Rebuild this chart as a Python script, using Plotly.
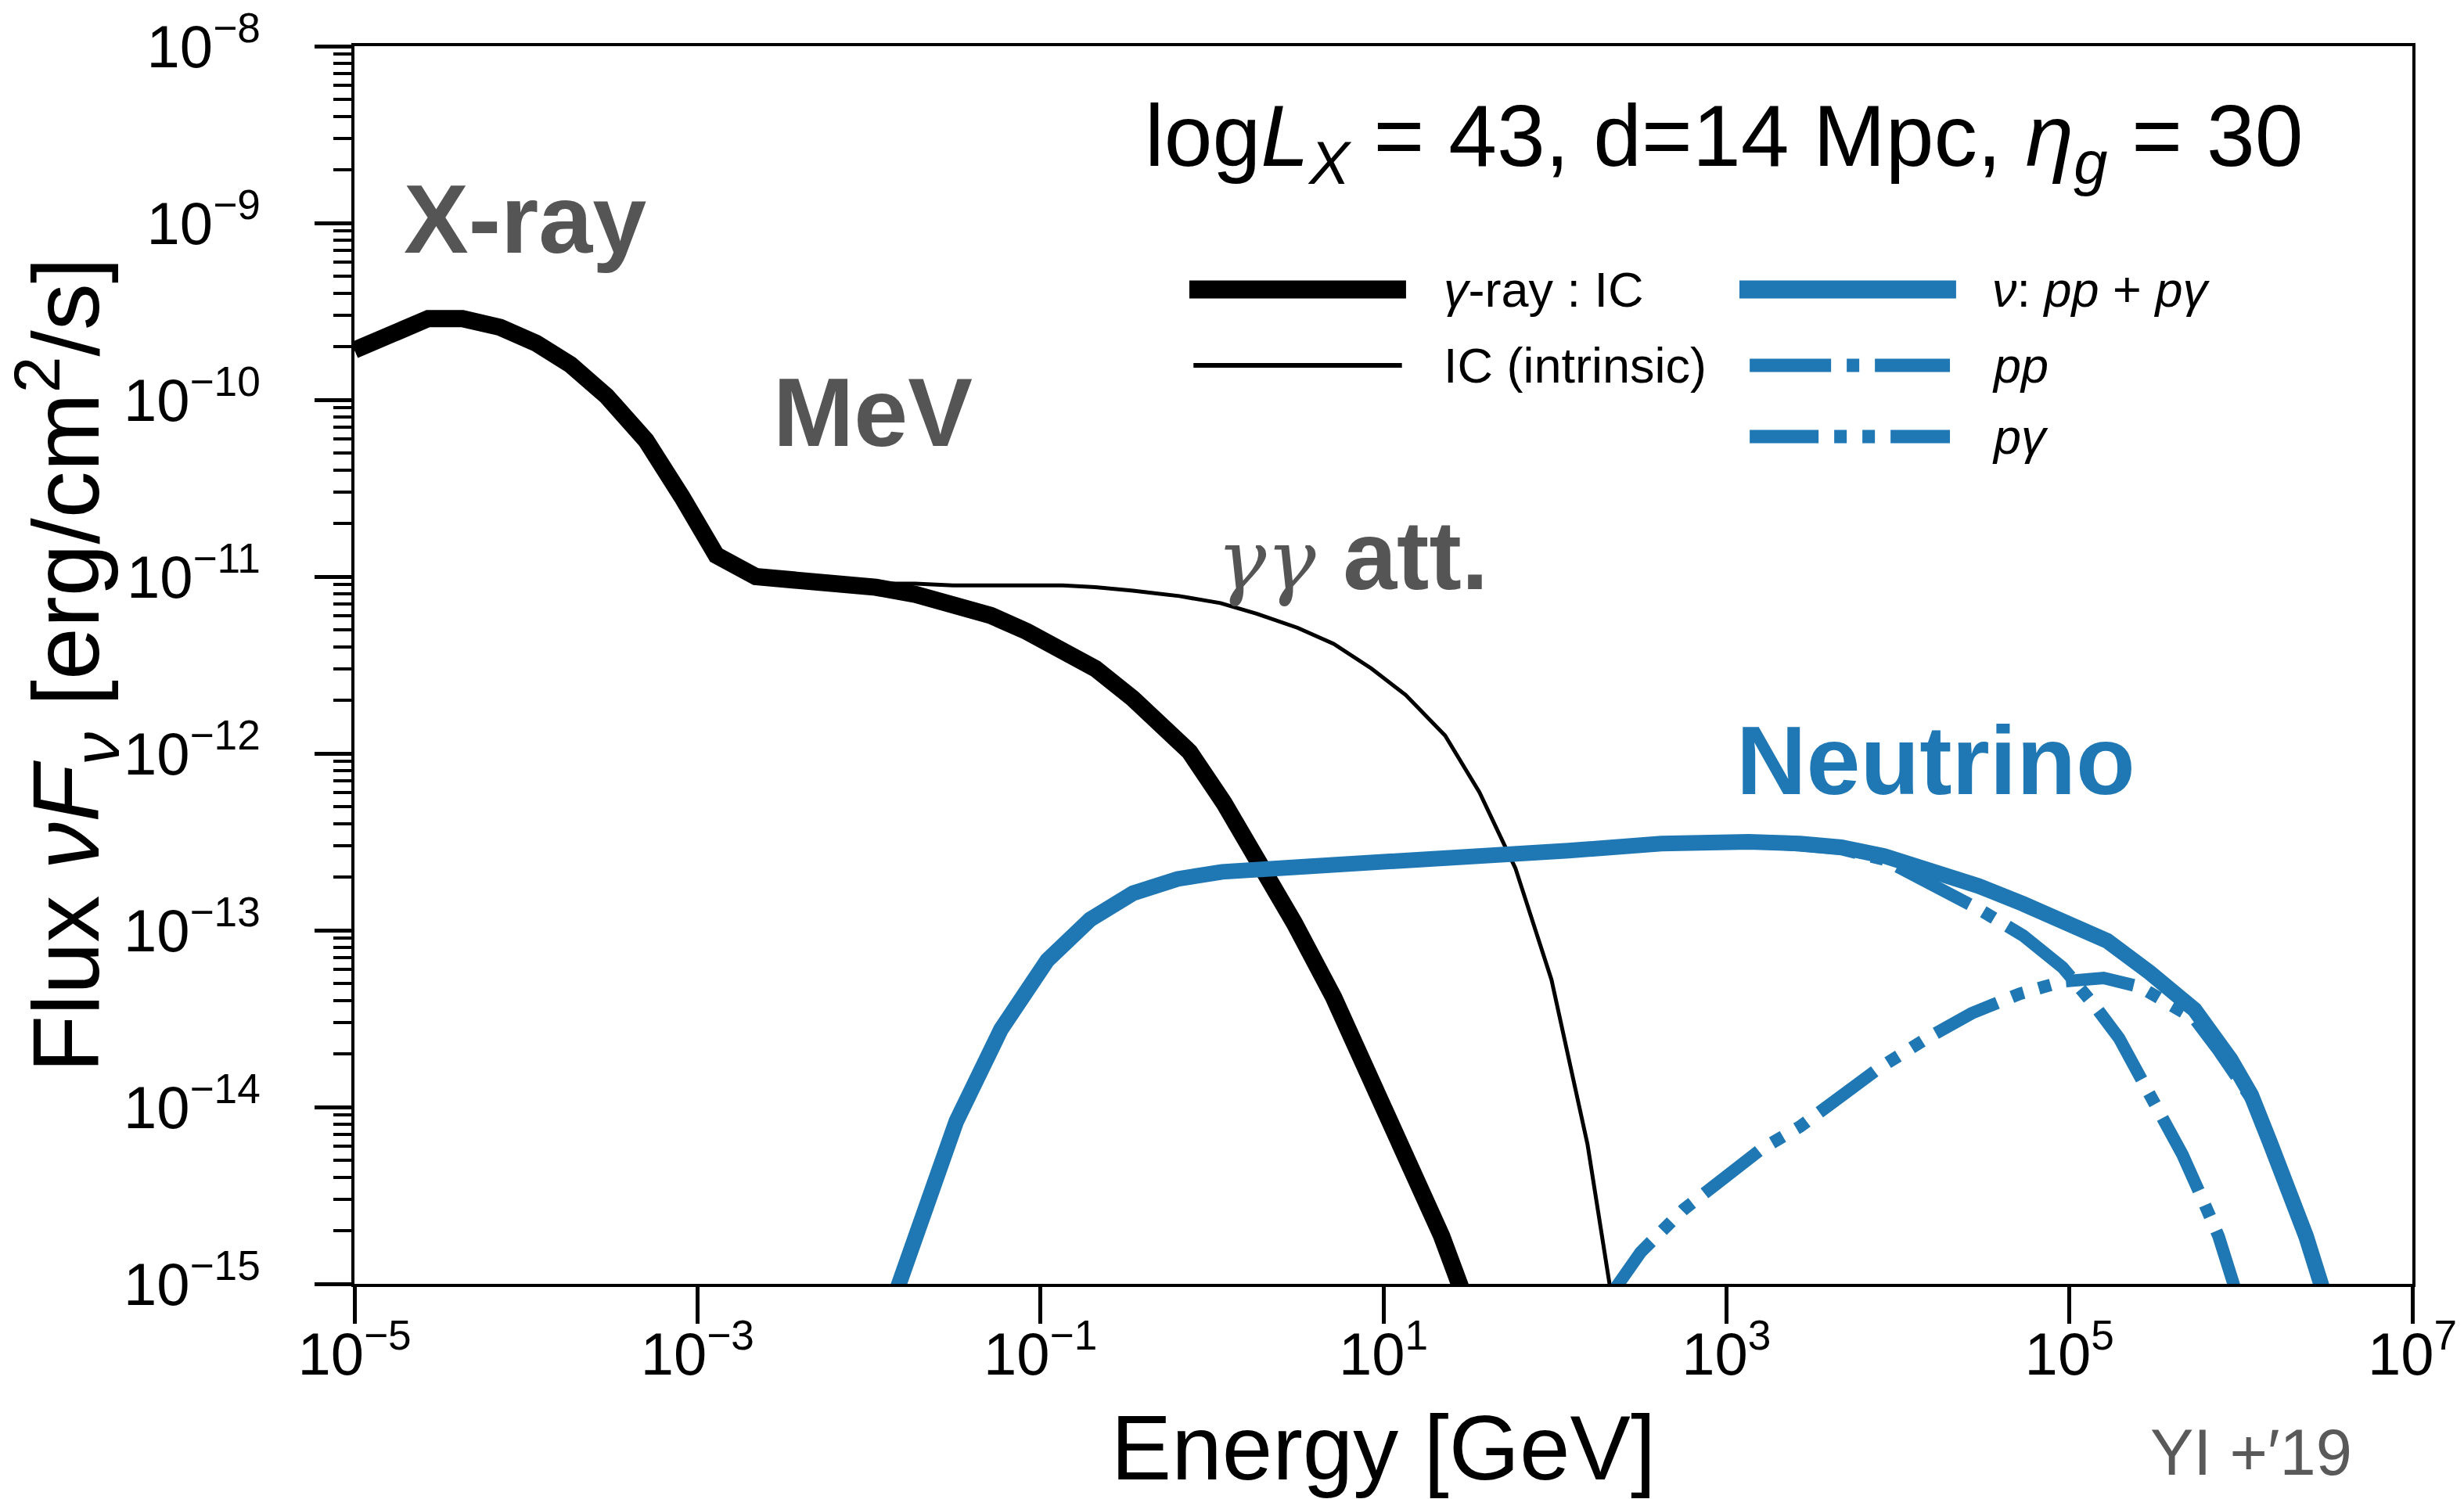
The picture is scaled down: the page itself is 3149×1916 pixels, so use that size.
import plotly.graph_objects as go

# ---------------- data ----------------
# gamma-ray : IC (attenuated, thick black)
gam_E = [1e-5, 10**-4.79, 10**-4.57, 10**-4.37, 10**-4.15, 10**-3.94, 10**-3.74, 10**-3.53,
         10**-3.30, 10**-3.09, 10**-2.89, 10**-2.66, 10**-2.28, 10**-1.96, 10**-1.73, 10**-1.51,
         10**-1.29, 10**-1.08, 10**-0.87, 10**-0.68, 10**-0.46, 10**-0.29, 10**-0.13, 10**0.07,
         10**0.28, 10**0.48, 10**0.71, 10**0.91, 10**1.13, 10**1.34, 10**1.47]
gam_F = [1.91e-10, 2.40e-10, 2.88e-10, 2.88e-10, 2.57e-10, 2.09e-10, 1.58e-10, 1.05e-10,
         5.89e-11, 2.82e-11, 1.32e-11, 1.00e-11, 9.33e-12, 8.71e-12, 7.94e-12, 7.08e-12,
         6.03e-12, 4.90e-12, 3.80e-12, 3.02e-12, 2.04e-12, 1.45e-12, 1.02e-12, 5.25e-13,
         2.40e-13, 1.10e-13, 4.17e-14, 1.58e-14, 5.62e-15, 1.86e-15, 8.5e-16]

# IC (intrinsic, thin black)
ic_E = [1e-5, 10**-4.79, 10**-4.57, 10**-4.37, 10**-4.15, 10**-3.94, 10**-3.74, 10**-3.53,
        10**-3.30, 10**-3.09, 10**-2.89, 10**-2.66, 10**-2.28, 10**-1.96, 10**-1.73, 10**-1.51,
        10**-1.29, 10**-1.08, 10**-0.87, 10**-0.68, 10**-0.46, 10**-0.19, 10**0.05, 10**0.26,
        10**0.50, 10**0.71, 10**0.93, 10**1.13, 10**1.36, 10**1.56, 10**1.77, 10**1.98,
        10**2.19, 10**2.33]
ic_F = [1.91e-10, 2.40e-10, 2.88e-10, 2.88e-10, 2.57e-10, 2.09e-10, 1.58e-10, 1.05e-10,
        5.89e-11, 2.82e-11, 1.32e-11, 1.00e-11, 9.33e-12, 9.12e-12, 9.12e-12, 8.91e-12,
        8.91e-12, 8.91e-12, 8.91e-12, 8.71e-12, 8.32e-12, 7.76e-12, 7.08e-12, 6.17e-12,
        5.13e-12, 4.17e-12, 3.02e-12, 2.14e-12, 1.26e-12, 6.03e-13, 2.24e-13, 5.25e-14,
        6.17e-15, 8.5e-16]

# neutrino: pp + p-gamma (solid blue)
nu_E = [10**-1.85, 10**-1.74, 10**-1.59, 10**-1.49, 10**-1.23, 10**-0.96, 10**-0.71, 10**-0.46,
        10**-0.20, 10**0.06, 10**0.54, 10**1.36, 10**2.08, 10**2.62, 10**2.92, 10**3.13,
        10**3.43, 10**3.67, 10**3.92, 10**4.19, 10**4.47, 10**4.73, 10**4.94, 10**5.22,
        10**5.47, 10**5.73, 10**5.94, 10**6.06, 10**6.17, 10**6.28, 10**6.38, 10**6.49]
nu_F = [8.5e-16, 1.78e-15, 4.27e-15, 8.32e-15, 2.75e-14, 6.76e-14, 1.15e-13, 1.62e-13,
        1.95e-13, 2.14e-13, 2.29e-13, 2.51e-13, 2.82e-13, 3.09e-13, 3.16e-13, 3.16e-13,
        3.09e-13, 2.95e-13, 2.63e-13, 2.19e-13, 1.78e-13, 1.41e-13, 1.17e-13, 8.71e-14,
        5.75e-14, 3.55e-14, 1.86e-14, 1.17e-14, 6.31e-15, 3.47e-15, 1.86e-15, 8.5e-16]

# pp component (dash-dot)
pp_E = [10**-1.85, 10**-1.74, 10**-1.59, 10**-1.49, 10**-1.23, 10**-0.96, 10**-0.71, 10**-0.46,
        10**-0.20, 10**0.06, 10**0.54, 10**1.36, 10**2.08, 10**2.62, 10**2.92, 10**3.13,
        10**3.43, 10**3.67, 10**3.92, 10**4.19, 10**4.47, 10**4.73, 10**4.96, 10**5.15,
        10**5.29, 10**5.47, 10**5.66, 10**5.78, 10**5.87, 10**5.98]
pp_F = [8.5e-16, 1.78e-15, 4.27e-15, 8.32e-15, 2.75e-14, 6.76e-14, 1.15e-13, 1.62e-13,
        1.95e-13, 2.14e-13, 2.29e-13, 2.51e-13, 2.82e-13, 3.09e-13, 3.16e-13, 3.16e-13,
        3.02e-13, 2.88e-13, 2.51e-13, 1.86e-13, 1.32e-13, 9.33e-14, 6.17e-14, 3.72e-14,
        2.45e-14, 1.17e-14, 5.37e-15, 2.95e-15, 1.86e-15, 8.5e-16]

# p-gamma component (dash-dot-dot)
pg_E = [10**2.32, 10**2.50, 10**2.75, 10**3.00, 10**3.20, 10**3.43, 10**3.66, 10**3.89,
        10**4.17, 10**4.43, 10**4.71, 10**4.96, 10**5.20, 10**5.41, 10**5.57, 10**5.73,
        10**5.87, 10**5.96, 10**6.06, 10**6.17, 10**6.28, 10**6.38, 10**6.49]
pg_F = [8.5e-16, 1.51e-15, 2.63e-15, 4.17e-15, 5.75e-15, 7.76e-15, 1.15e-14, 1.66e-14,
        2.45e-14, 3.39e-14, 4.37e-14, 5.13e-14, 5.37e-14, 4.79e-14, 3.89e-14, 3.16e-14,
        2.09e-14, 1.58e-14, 1.12e-14, 6.17e-15, 3.39e-15, 1.82e-15, 8.5e-16]

x_tickvals = [1e-5, 1e-3, 1e-1, 1e1, 1e3, 1e5, 1e7]
x_ticktext = ["10<sup>\u22125</sup>", "10<sup>\u22123</sup>", "10<sup>\u22121</sup>",
              "10<sup>1</sup>", "10<sup>3</sup>", "10<sup>5</sup>", "10<sup>7</sup>"]
y_tickvals = [1e-15, 1e-14, 1e-13, 1e-12, 1e-11, 1e-10, 1e-9, 1e-8]
y_ticktext = ["10<sup>\u221215</sup>", "10<sup>\u221214</sup>", "10<sup>\u221213</sup>",
              "10<sup>\u221212</sup>", "10<sup>\u221211</sup>", "10<sup>\u221210</sup>",
              "10<sup>\u22129</sup>", "10<sup>\u22128</sup>"]

legend_labels = ["<i>\u03b3</i>-ray : IC", "IC (intrinsic)",
                 "<i>\u03bd</i>: <i>pp</i> + <i>p\u03b3</i>", "<i>pp</i>", "<i>p\u03b3</i>"]

# ---------------- styles ----------------
BLUE = "#1f77b4"
GREY = "#555555"
FONT = "Liberation Sans"
DASH_PP = "104px,20px,16px,20px"
DASH_PG = "88px,20px,16px,20px,16px,20px"

# minor tick positions (2..9 within each decade)
y_minor = [m * d for d in y_tickvals[:-1] for m in range(2, 10)]

fig = go.Figure()
fig.add_trace(go.Scatter(x=gam_E, y=gam_F, mode="lines", name=legend_labels[0],
                         line=dict(color="black", width=22)))
fig.add_trace(go.Scatter(x=ic_E, y=ic_F, mode="lines", name=legend_labels[1],
                         line=dict(color="black", width=5)))
fig.add_trace(go.Scatter(x=nu_E, y=nu_F, mode="lines", name=legend_labels[2],
                         line=dict(color=BLUE, width=20)))
fig.add_trace(go.Scatter(x=pp_E, y=pp_F, mode="lines", name=legend_labels[3],
                         line=dict(color=BLUE, width=16, dash=DASH_PP)))
fig.add_trace(go.Scatter(x=pg_E, y=pg_F, mode="lines", name=legend_labels[4],
                         line=dict(color=BLUE, width=16, dash=DASH_PG)))

fig.update_layout(
    width=3149, height=1916,
    margin=dict(l=453, r=66, t=59, b=275, autoexpand=False),
    plot_bgcolor="white", paper_bgcolor="white",
    showlegend=False,
    font=dict(family=FONT, color="black"),
)

fig.update_xaxes(
    type="log", range=[-5, 7],
    tickmode="array", tickvals=x_tickvals, ticktext=x_ticktext,
    ticks="outside", ticklen=47, tickwidth=5, tickcolor="black",
    showline=True, linewidth=4, linecolor="black", mirror=True,
    showgrid=False, zeroline=False,
    tickfont=dict(size=76, family=FONT, color="black"),
    ticklabelstandoff=-26,
    title=dict(text="Energy [GeV]", font=dict(size=116, family=FONT, color="black"), standoff=56),
)
fig.update_yaxes(
    type="log", range=[-15, -8],
    tickmode="array", tickvals=y_tickvals, ticktext=y_ticktext,
    ticks="outside", ticklen=47, tickwidth=5, tickcolor="black",
    minor=dict(tickmode="array", tickvals=y_minor, ticks="outside", ticklen=23,
               tickwidth=4, tickcolor="black", showgrid=False),
    showline=True, linewidth=4, linecolor="black", mirror=True,
    showgrid=False, zeroline=False,
    tickfont=dict(size=76, family=FONT, color="black"),
    ticklabelstandoff=54,
    title=dict(text="Flux <i>\u03bdF</i><sub><i>\u03bd</i></sub> [erg/cm<sup>2</sup>/s]",
               font=dict(size=120, family=FONT, color="black"), standoff=10),
)

# ---------------- text annotations ----------------
def label(text, x, y, size, color="black", xref="x", yref="y", xanchor="left"):
    fig.add_annotation(text=text, x=x, y=y, xref=xref, yref=yref, showarrow=False,
                       xanchor=xanchor, yanchor="middle",
                       font=dict(size=size, color=color, family=FONT))

label("<b>X-ray</b>", -4.72, -8.98, 124, GREY)
label("<b>MeV</b>", -2.57, -10.07, 124, GREY)
label('<span style="font-family:DejaVu Serif;font-size:106px"><i>\u03b3\u03b3</i></span> <b>att.</b>',
      0.02, -10.88, 124, GREY)
label("<b>Neutrino</b>", 3.05, -12.04, 124, BLUE)
label("log<i>L</i><sub><i>X</i></sub> = 43, d=14 Mpc, <i>\u03b7</i><sub><i>g</i></sub> = 30",
      -0.40, -8.54, 111)
label("YI +\u203219", 0.872, -0.1365, 83, "#595959", xref="paper", yref="paper")

# ---------------- legend (two columns) ----------------
row_y = [0.8034, 0.7421, 0.6846]
col1_line = (0.4057, 0.5110)
col2_line = (0.6730, 0.7783)
col1_text = 0.5285
col2_text = 0.7951

def key(x0, x1, y, color, width, dash="solid"):
    fig.add_shape(type="line", xref="paper", yref="paper", x0=x0, x1=x1, y0=y, y1=y,
                  line=dict(color=color, width=width, dash=dash))

key(col1_line[0], col1_line[1], row_y[0], "black", 23)
key(col1_line[0] + 0.002, col1_line[1] - 0.002, row_y[1], "black", 6)
key(col2_line[0], col2_line[1], row_y[0], BLUE, 23)
key(col2_line[0] + 0.005, col2_line[1] - 0.003, row_y[1], BLUE, 17, DASH_PP)
key(col2_line[0] + 0.005, col2_line[1] - 0.003, row_y[2], BLUE, 17, DASH_PG)

label(legend_labels[0], col1_text, row_y[0], 63, xref="paper", yref="paper")
label(legend_labels[1], col1_text, row_y[1], 63, xref="paper", yref="paper")
label(legend_labels[2], col2_text, row_y[0], 63, xref="paper", yref="paper")
label(legend_labels[3], col2_text, row_y[1], 63, xref="paper", yref="paper")
label(legend_labels[4], col2_text, row_y[2], 63, xref="paper", yref="paper")

fig.write_html("out.html")
